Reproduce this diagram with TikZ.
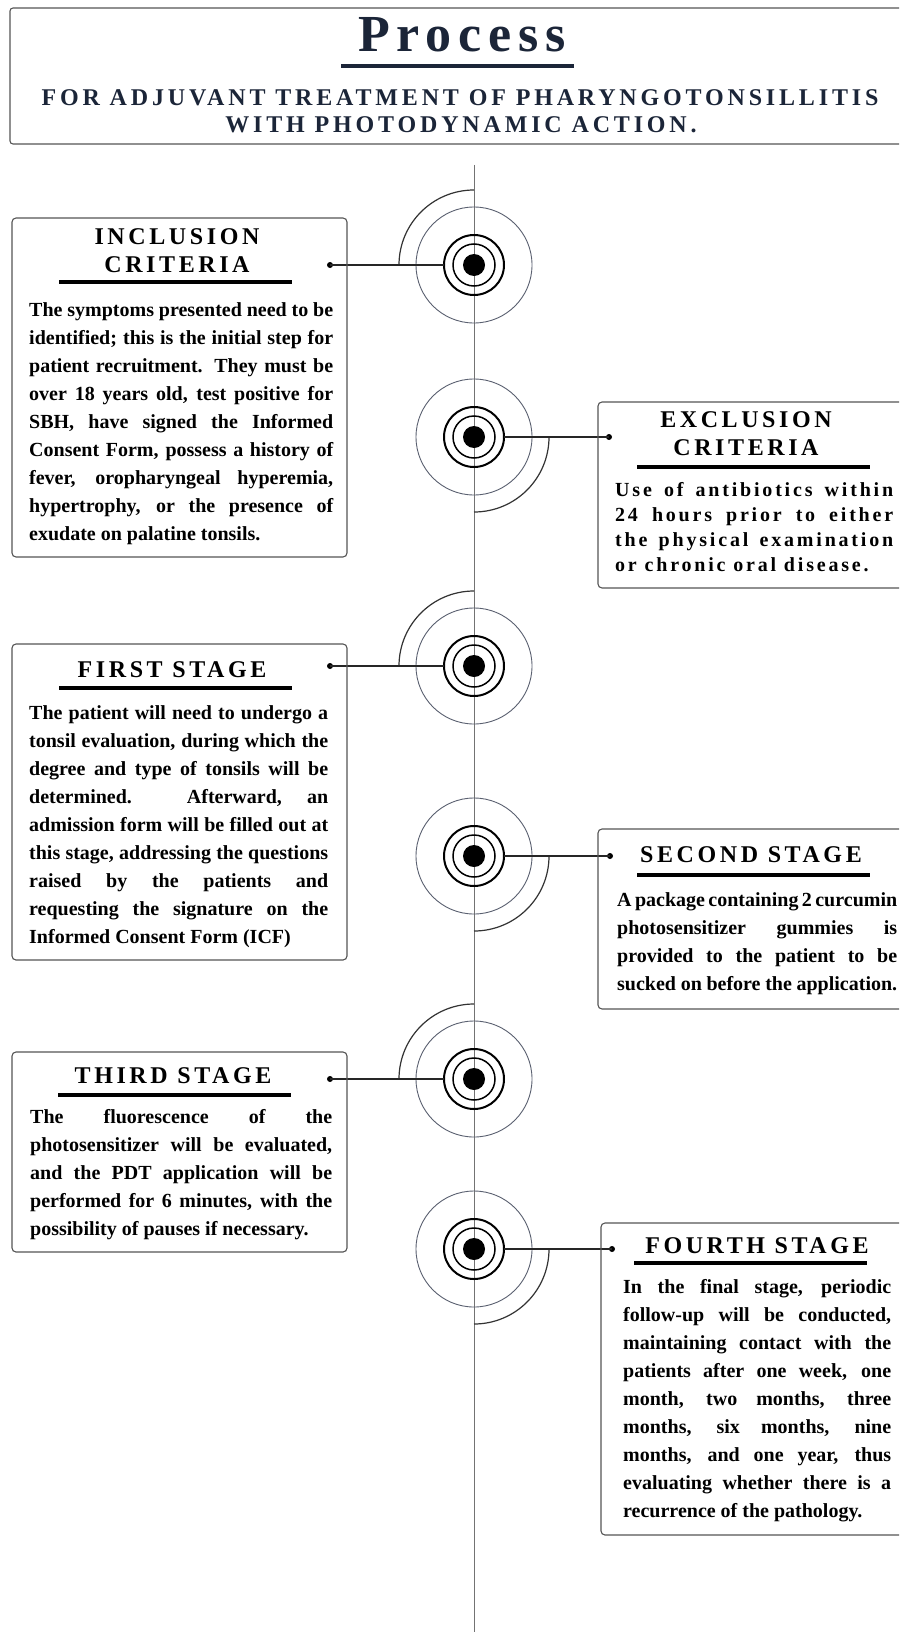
\documentclass[tikz,border=0pt]{standalone}
\usepackage{fontspec}
\setmainfont{Liberation Serif}
\newfontfamily\lsHead[LetterSpace=13]{Liberation Serif}
\newfontfamily\lsSub[LetterSpace=16]{Liberation Serif}
\newfontfamily\lsTitle[LetterSpace=15]{Liberation Serif}
\newfontfamily\lsBody[LetterSpace=14]{Liberation Serif}
\definecolor{navy}{HTML}{1B2538}
\definecolor{boxgray}{HTML}{555555}
\definecolor{ringgray}{HTML}{5A6070}
\newcommand\jl[1]{\makebox[\linewidth][s]{#1}\par}
\tikzset{
 frame/.style={draw=boxgray, line width=1.1pt, rounded corners=4pt, anchor=north west, inner sep=0pt, outer sep=0pt},
 hd/.style={font=\lsHead\bfseries\fontsize{52}{60}\selectfont, text=navy, anchor=base, inner sep=0pt},
 sub/.style={font=\lsSub\bfseries\fontsize{24}{28}\selectfont, text=navy, anchor=base, inner sep=0pt},
 ttl/.style={font=\lsTitle\bfseries\fontsize{24}{28}\selectfont, anchor=base, inner sep=0pt},
 body/.style={font=\bfseries\fontsize{20}{28}\selectfont, anchor=base west, inner sep=0pt},
 sbody/.style={font=\lsBody\bfseries\fontsize{20}{25}\selectfont, anchor=base west, inner sep=0pt},
 uline/.style={line width=4.5pt},
 tline/.style={draw=black!55, line width=1pt},
 big/.style={draw=ringgray, line width=0.9pt},
 swirl/.style={draw=black!80, line width=1.2pt},
 ringA/.style={circle, draw=black, line width=2pt, minimum size=60pt, inner sep=0pt, outer sep=0pt},
 ringB/.style={circle, draw=black, line width=1.5pt, minimum size=42pt, inner sep=0pt, outer sep=0pt},
 core/.style={circle, fill=black, minimum size=22pt, inner sep=0pt},
 pin/.style={circle, fill=black, minimum size=6pt, inner sep=0pt},
 conn/.style={draw=black!85, line width=1.2pt},
}
\begin{document}
\begin{tikzpicture}[x=1pt,y=-1pt]
\useasboundingbox (0,0) rectangle (899,1632);
\clip (0,0) rectangle (899,1632);
\fill[white] (0,0) rectangle (899,1632);

% header
\node[frame, rounded corners=3pt, minimum width=930pt, minimum height=136pt] (hdr) at (10,8) {};
\node[hd] (title) at (462,52) {Process};
\draw[uline, navy] (341,66) -- (574,66);
\node[sub] (sub1) at (460,106) {FOR ADJUVANT TREATMENT OF PHARYNGOTONSILLITIS};
\node[sub] (sub2) at (461,133) {WITH PHOTODYNAMIC ACTION.};

% timeline
\coordinate (t0) at (474,165);
\coordinate (t1) at (474,1640);
\draw[tline] (t0) -- (t1);

% circle markers
\foreach \n/\y in {1/265,2/437,3/666,4/856,5/1079,6/1249}{
  \coordinate (c\n) at (474,\y);
  \draw[big] (c\n) circle[radius=58pt];
  \node[ringA] (ra\n) at (c\n) {};
  \node[ringB] (rb\n) at (c\n) {};
  \node[core] (co\n) at (c\n) {};
}
\draw[swirl] (c1) ++(0,-75) arc[start angle=90,end angle=180,radius=75pt];
\draw[swirl] (c3) ++(0,-75) arc[start angle=90,end angle=180,radius=75pt];
\draw[swirl] (c5) ++(0,-75) arc[start angle=90,end angle=180,radius=75pt];
\draw[swirl] (c2) ++(75,0) arc[start angle=0,end angle=-90,radius=75pt];
\draw[swirl] (c4) ++(75,0) arc[start angle=0,end angle=-90,radius=75pt];
\draw[swirl] (c6) ++(75,0) arc[start angle=0,end angle=-90,radius=75pt];

\node[pin] (p1) at (330,265) {};
\node[pin] (p2) at (609,437) {};
\node[pin] (p3) at (330,666) {};
\node[pin] (p4) at (610,856) {};
\node[pin] (p5) at (330,1079) {};
\node[pin] (p6) at (612,1249) {};
\draw[conn] (p1.center) -- (ra1.west);
\draw[conn] (ra2.east) -- (p2.center);
\draw[conn] (p3.center) -- (ra3.west);
\draw[conn] (ra4.east) -- (p4.center);
\draw[conn] (p5.center) -- (ra5.west);
\draw[conn] (ra6.east) -- (p6.center);

% INCLUSION
\node[frame, minimum width=335pt, minimum height=339pt] (incbox) at (12,218) {};
\node[ttl] (inct1) at (177,244) {INCLUSION};
\node[ttl] (inct2) at (177,272) {CRITERIA};
\draw[uline] (59,282) -- (292,282);
\node[body] (incb) at (29,316) {\parbox[t]{304pt}{%
\jl{The symptoms presented need to be}%
\jl{identified; this is the initial step for}%
\jl{patient recruitment. They must be}%
\jl{over 18 years old, test positive for}%
\jl{SBH, have signed the Informed}%
\jl{Consent Form, possess a history of}%
\jl{fever, oropharyngeal hyperemia,}%
\jl{hypertrophy, or the presence of}%
exudate on palatine tonsils.}};

% EXCLUSION
\node[frame, minimum width=330pt, minimum height=186pt] (excbox) at (598,402) {};
\node[ttl] (exct1) at (746,427) {EXCLUSION};
\node[ttl] (exct2) at (746,455) {CRITERIA};
\draw[uline] (637,467) -- (870,467);
\node[sbody] (excb) at (615,496) {\parbox[t]{278pt}{%
\jl{Use of antibiotics within}%
\jl{24 hours prior to either}%
\jl{the physical examination}%
or chronic oral disease.}};

% FIRST
\node[frame, minimum width=335pt, minimum height=316pt] (firstbox) at (12,644) {};
\node[ttl] (firstt) at (172,677) {FIRST STAGE};
\draw[uline] (59,688) -- (292,688);
\node[body] (firstb) at (29,719) {\parbox[t]{299pt}{%
\jl{The patient will need to undergo a}%
\jl{tonsil evaluation, during which the}%
\jl{degree and type of tonsils will be}%
\jl{determined. Afterward, an}%
\jl{admission form will be filled out at}%
\jl{this stage, addressing the questions}%
\jl{raised by the patients and}%
\jl{requesting the signature on the}%
Informed Consent Form (ICF)}};

% SECOND
\node[frame, minimum width=330pt, minimum height=180pt] (secbox) at (598,829) {};
\node[ttl] (sect) at (751,862) {SECOND STAGE};
\draw[uline] (637,875) -- (870,875);
\node[body] (secb) at (617,906) {\parbox[t]{280pt}{%
\jl{A package containing 2 curcumin}%
\jl{photosensitizer gummies is}%
\jl{provided to the patient to be}%
sucked on before the application.}};

% THIRD
\node[frame, minimum width=335pt, minimum height=200pt] (thirdbox) at (12,1052) {};
\node[ttl] (thirdt) at (173,1083) {THIRD STAGE};
\draw[uline] (58,1095) -- (291,1095);
\node[body] (thirdb) at (30,1123) {\parbox[t]{302pt}{%
\jl{The fluorescence of the}%
\jl{photosensitizer will be evaluated,}%
\jl{and the PDT application will be}%
\jl{performed for 6 minutes, with the}%
possibility of pauses if necessary.}};

% FOURTH
\node[frame, minimum width=330pt, minimum height=312pt] (fourbox) at (601,1223) {};
\node[ttl] (fourt) at (757,1253) {FOURTH STAGE};
\draw[uline] (634,1263) -- (867,1263);
\node[body] (fourb) at (623,1293) {\parbox[t]{268pt}{%
\jl{In the final stage, periodic}%
\jl{follow-up will be conducted,}%
\jl{maintaining contact with the}%
\jl{patients after one week, one}%
\jl{month, two months, three}%
\jl{months, six months, nine}%
\jl{months, and one year, thus}%
\jl{evaluating whether there is a}%
recurrence of the pathology.}};
\end{tikzpicture}
\end{document}
